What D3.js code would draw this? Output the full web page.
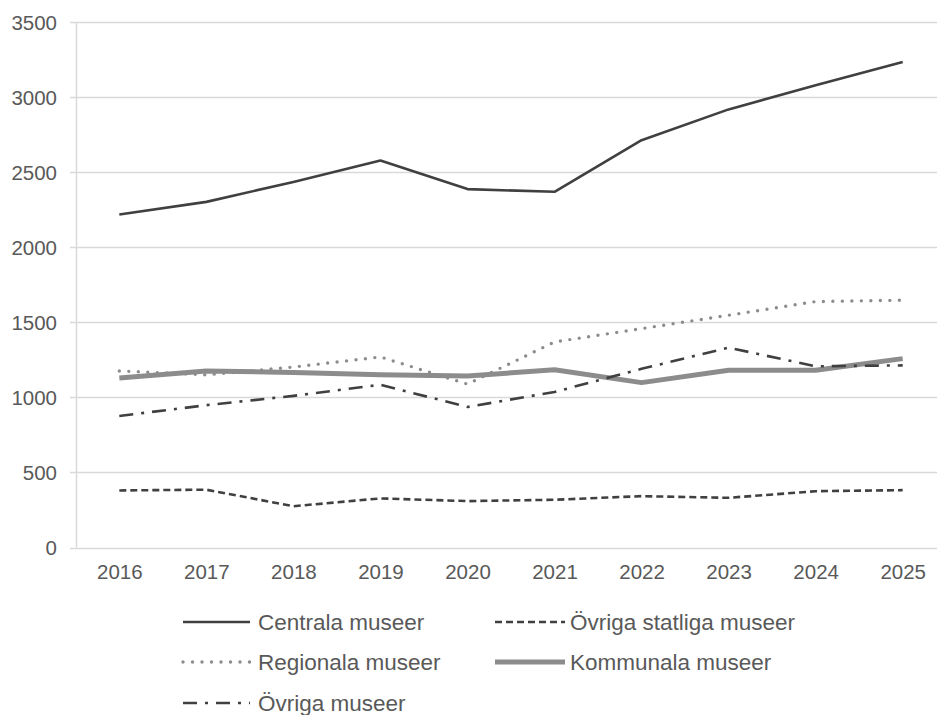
<!DOCTYPE html>
<html>
<head>
<meta charset="utf-8">
<script src="https://cdn.jsdelivr.net/npm/d3@7"></script>
<style>
  body { margin: 0; background: #fff; }
  text { font-family: "Liberation Sans", Arial, sans-serif; fill: #595959; }
</style>
</head>
<body>
<svg width="937" height="715"></svg>
<script>
var years = [2016, 2017, 2018, 2019, 2020, 2021, 2022, 2023, 2024, 2025];
var yTicks = [0, 500, 1000, 1500, 2000, 2500, 3000, 3500];

var centrala      = [2218, 2302, 2435, 2578, 2387, 2369, 2713, 2918, 3078, 3233];
var ovrigaStatl   = [380, 385, 275, 327, 309, 318, 342, 331, 375, 382];
var regionala     = [1176, 1150, 1202, 1269, 1088, 1369, 1458, 1547, 1638, 1647];
var kommunala     = [1129, 1176, 1165, 1150, 1142, 1184, 1098, 1180, 1180, 1258];
var ovrigaMuseer  = [876, 948, 1010, 1084, 936, 1036, 1190, 1331, 1207, 1213];

var seriesNames = ["Centrala museer", "Övriga statliga museer", "Regionala museer", "Kommunala museer", "Övriga museer"];

var svg = d3.select("svg");

var x = d3.scalePoint()
    .domain(years)
    .range([75.8, 946.2])
    .padding(0.5);

var y = d3.scaleLinear()
    .domain([0, 3500])
    .range([547.5, 22]);

// styles per series
var styles = [
    { color: "#404040", width: 2.6, dash: null, cap: "butt" },
    { color: "#404040", width: 2.6, dash: "7,4", cap: "butt" },
    { color: "#8c8c8c", width: 3.4, dash: "0,9.5", cap: "round" },
    { color: "#8c8c8c", width: 5, dash: null, cap: "butt" },
    { color: "#404040", width: 2.6, dash: "14,8,3,8", cap: "butt" }
];

var data = [centrala, ovrigaStatl, regionala, kommunala, ovrigaMuseer];

// gridlines
svg.append("g")
    .selectAll("line")
    .data(yTicks)
    .enter().append("line")
    .attr("x1", 70)
    .attr("x2", 946)
    .attr("y1", function (d) { return Math.round(y(d)) + 0.5; })
    .attr("y2", function (d) { return Math.round(y(d)) + 0.5; })
    .attr("stroke", "#d9d9d9")
    .attr("stroke-width", 1.5);

// y axis line
svg.append("line")
    .attr("x1", 76.5).attr("x2", 76.5)
    .attr("y1", y(3500)).attr("y2", y(0))
    .attr("stroke", "#d9d9d9")
    .attr("stroke-width", 1.5);

// y axis labels
var yAxis = svg.append("g")
    .attr("transform", "translate(57,0)")
    .call(d3.axisLeft(y).tickValues(yTicks).tickFormat(d3.format("d")).tickSize(0).tickPadding(0));
yAxis.select(".domain").remove();
yAxis.selectAll("text")
    .style("font-size", "20.5px")
    .attr("fill", "#595959")
    .attr("dy", "0.35em");

// x axis labels
var xAxis = svg.append("g")
    .attr("transform", "translate(0,562)")
    .call(d3.axisBottom(x).tickSize(0).tickPadding(0));
xAxis.select(".domain").remove();
xAxis.selectAll("text")
    .style("font-size", "20.5px")
    .attr("fill", "#595959")
    .attr("dy", "0.85em");

var line = d3.line()
    .x(function (d, i) { return x(years[i]); })
    .y(function (d) { return y(d); });

data.forEach(function (vals, k) {
    var s = styles[k];
    svg.append("path")
        .datum(vals)
        .attr("d", line)
        .attr("fill", "none")
        .attr("stroke", s.color)
        .attr("stroke-width", s.width)
        .attr("stroke-dasharray", s.dash)
        .attr("stroke-linecap", s.cap)
        .attr("stroke-linejoin", "round");
});

// legend
var legendPos = [
    { x: 183, y: 622 },
    { x: 495, y: 622 },
    { x: 183, y: 662 },
    { x: 495, y: 662 },
    { x: 183, y: 703 }
];

var legend = svg.append("g")
    .selectAll("g")
    .data(seriesNames)
    .enter().append("g")
    .attr("transform", function (d, i) { return "translate(" + legendPos[i].x + "," + legendPos[i].y + ")"; });

legend.append("line")
    .attr("x1", 0).attr("x2", function (d, i) { return i % 2 ? 70 : 67; })
    .attr("y1", 0).attr("y2", 0)
    .attr("stroke", function (d, i) { return styles[i].color; })
    .attr("stroke-width", function (d, i) { return styles[i].width; })
    .attr("stroke-dasharray", function (d, i) { return styles[i].dash; })
    .attr("stroke-linecap", function (d, i) { return styles[i].cap; });

legend.append("text")
    .attr("x", function (d, i) { return i % 2 ? 75 : 75; })
    .attr("y", 0)
    .attr("dy", "0.35em")
    .style("font-size", "22.5px")
    .text(function (d) { return d; });
</script>
</body>
</html>
